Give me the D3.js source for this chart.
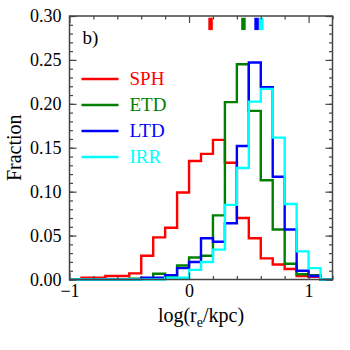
<!DOCTYPE html>
<html>
  <head>
    <meta charset="utf-8">
    <style>
      body { margin: 0; background: #fff; }
      text { font-family: "Liberation Serif", "Times New Roman", serif; }
    </style>
  </head>
  <body>
    <div id="chart"></div>
  </body>
  <script src="https://cdnjs.cloudflare.com/ajax/libs/d3/7.8.5/d3.min.js"></script>
  <script type="text/javascript">
    // bin left edges, width 0.1, from -1.0 to 1.1
    var binEdges = d3.range(22).map(function(i) { return Math.round((-1 + i * 0.1) * 10) / 10; });
    var binWidth = 0.1;

    var sph = [0, 0.002, 0.002, 0.004, 0.004, 0.007, 0.027, 0.048, 0.059, 0.099, 0.135,
               0.143, 0.159, 0.133, 0.070, 0.047, 0.024, 0.017, 0.012, 0.004, 0.003, 0];
    var etd = [0, 0, 0, 0, 0, 0.001, 0.001, 0.0066, 0.004, 0.016, 0.025,
               0.027, 0.073, 0.202, 0.245, 0.192, 0.113, 0.057, 0.018, 0.006, 0.005, 0];
    var ltd = [0, 0, 0, 0, 0, 0, 0.002, 0.002, 0.005, 0.013, 0.020,
               0.047, 0.043, 0.064, 0.152, 0.247, 0.219, 0.117, 0.057, 0.010, 0.004, 0];
    var irr = [0, 0, 0, 0, 0, 0, 0, 0, 0.002, 0.002, 0.011,
               0.020, 0.034, 0.085, 0.127, 0.2025, 0.217, 0.1615, 0.086, 0.032, 0.013, 0];

    var seriesNames = ["SPH", "ETD", "LTD", "IRR"];
    var seriesColors = ["#ff0000", "#008000", "#0000ff", "#00ffff"];
    var medians = [0.18, 0.455, 0.565, 0.605];

    var xTicks = [-1, 0, 1];
    var xMinor = [-0.8, -0.6, -0.4, -0.2, 0.2, 0.4, 0.6, 0.8, 1.2];
    var yTicks = [0, 0.05, 0.10, 0.15, 0.20, 0.25, 0.30];
    var yMinor = d3.range(31).map(function(i) { return i / 100; });

    var width = 350, height = 350;
    var margin = { left: 69.5, top: 16, right: 17.5, bottom: 70.5 };
    var w = width - margin.left - margin.right;
    var h = height - margin.top - margin.bottom;
    var axisColor = "#444";

    var svg = d3.select("#chart").append("svg")
      .attr("width", width)
      .attr("height", height);

    var g = svg.append("g")
      .attr("transform", "translate(" + margin.left + "," + margin.top + ")");

    var x = d3.scaleLinear().domain([-1, 1.2]).range([0, w]);
    var y = d3.scaleLinear().domain([0, 0.30]).range([h, 0]);

    // histogram outlines
    var line = d3.line()
      .x(function(d) { return x(d[0]); })
      .y(function(d) { return y(d[1]); })
      .curve(d3.curveStepAfter);

    [sph, etd, ltd, irr].forEach(function(vals, k) {
      var pts = binEdges.map(function(e, i) { return [e, vals[i]]; });
      pts.push([binEdges[binEdges.length - 1] + binWidth, vals[vals.length - 1]]);
      g.append("path")
        .datum(pts)
        .attr("fill", "none")
        .attr("stroke", seriesColors[k])
        .attr("stroke-width", 2.4)
        .attr("d", line);
    });

    // median markers at top
    g.selectAll(".median")
      .data(medians)
      .enter().append("line")
      .attr("class", "median")
      .attr("x1", function(d) { return x(d); })
      .attr("x2", function(d) { return x(d); })
      .attr("y1", y(0.298))
      .attr("y2", y(0.284))
      .attr("stroke", function(d, i) { return seriesColors[i]; })
      .attr("stroke-width", 4.5);

    // axes, ticks pointing inward
    function styleAxis(sel) {
      sel.select(".domain").remove();
      sel.selectAll(".tick line").attr("stroke", axisColor).attr("stroke-width", 1.2);
      sel.selectAll(".tick text")
        .attr("fill", "#000")
        .style("font-size", "18px")
        .style("font-family", "'Liberation Serif', serif");
    }

    g.append("g").attr("transform", "translate(0," + h + ")")
      .call(d3.axisBottom(x).tickValues(xTicks).tickSize(-7).tickPadding(5)
        .tickFormat(function(d) { return d < 0 ? "\u2212" + Math.abs(d) : d; }))
      .call(styleAxis);
    g.append("g").attr("transform", "translate(0," + h + ")")
      .call(d3.axisBottom(x).tickValues(xMinor).tickSize(-3.5).tickFormat(""))
      .call(styleAxis);
    g.append("g")
      .call(d3.axisTop(x).tickValues(xTicks).tickSize(-7).tickFormat(""))
      .call(styleAxis);
    g.append("g")
      .call(d3.axisTop(x).tickValues(xMinor).tickSize(-3.5).tickFormat(""))
      .call(styleAxis);

    g.append("g")
      .call(d3.axisLeft(y).tickValues(yTicks).tickSize(-7).tickPadding(8)
        .tickFormat(d3.format(".2f")))
      .call(styleAxis);
    g.append("g")
      .call(d3.axisLeft(y).tickValues(yMinor).tickSize(-3.5).tickFormat(""))
      .call(styleAxis);
    g.append("g").attr("transform", "translate(" + w + ",0)")
      .call(d3.axisRight(y).tickValues(yTicks).tickSize(-7).tickFormat(""))
      .call(styleAxis);
    g.append("g").attr("transform", "translate(" + w + ",0)")
      .call(d3.axisRight(y).tickValues(yMinor).tickSize(-3.5).tickFormat(""))
      .call(styleAxis);

    // frame
    g.append("rect")
      .attr("width", w)
      .attr("height", h)
      .attr("fill", "none")
      .attr("stroke", axisColor)
      .attr("stroke-width", 1.5);

    // panel label
    g.append("text")
      .attr("x", 13)
      .attr("y", 28)
      .style("font-size", "19px")
      .text("b)");

    // legend
    var legend = g.selectAll(".legend")
      .data(seriesNames)
      .enter().append("g")
      .attr("class", "legend")
      .attr("transform", function(d, i) { return "translate(12," + (63 + i * 26) + ")"; });
    legend.append("line")
      .attr("x1", 0).attr("x2", 37)
      .attr("stroke", function(d, i) { return seriesColors[i]; })
      .attr("stroke-width", 2.4);
    legend.append("text")
      .attr("x", 48)
      .attr("y", 6)
      .attr("fill", function(d, i) { return seriesColors[i]; })
      .style("font-size", "19px")
      .text(function(d) { return d; });

    // axis titles
    var xt = svg.append("text")
      .attr("x", margin.left + w / 2)
      .attr("y", 322)
      .attr("text-anchor", "middle")
      .style("font-size", "20px");
    xt.append("tspan").text("log(r");
    xt.append("tspan").attr("dy", 5).style("font-size", "14px").text("e");
    xt.append("tspan").attr("dy", -5).text("/kpc)");

    svg.append("text")
      .attr("transform", "translate(21," + (margin.top + h / 2) + ") rotate(-90)")
      .attr("text-anchor", "middle")
      .style("font-size", "20px")
      .text("Fraction");
  </script>
</html>
